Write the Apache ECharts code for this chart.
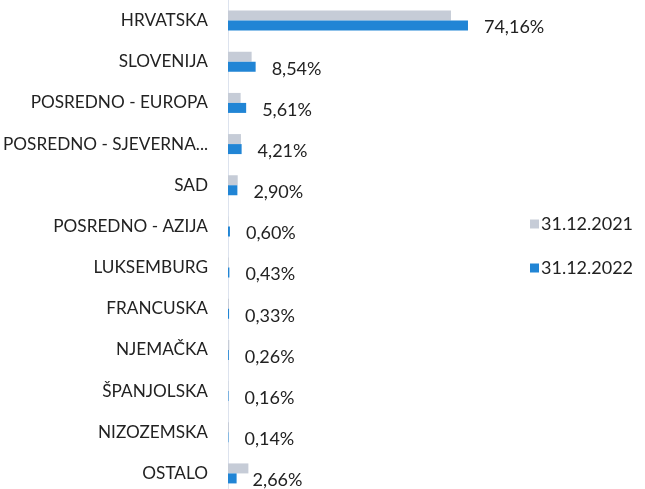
<!DOCTYPE html>
<html>
<head>
<meta charset="utf-8">
<script src="https://cdn.jsdelivr.net/npm/echarts@6/dist/echarts.min.js"></script>
<style>
html,body{margin:0;padding:0;background:#fff}
#echarts{width:645px;height:489px}
</style>
</head>
<body>
<div id="echarts"></div>
<script>
// kategorije, odozgo prema dolje
var categories = ['HRVATSKA','SLOVENIJA','POSREDNO - EUROPA','POSREDNO - SJEVERNA...','SAD','POSREDNO - AZIJA','LUKSEMBURG','FRANCUSKA','NJEMAČKA','ŠPANJOLSKA','NIZOZEMSKA','OSTALO']
var seriesNames = ['31.12.2021','31.12.2022']
var values2021 = [68.9,7.3,3.9,4.0,3.0,0.1,0.2,0.3,0.4,0.1,0.3,6.3]
var values2022 = [74.16,8.54,5.61,4.21,2.90,0.60,0.43,0.33,0.26,0.16,0.14,2.66]

var chart = echarts.init(document.getElementById('echarts'))
var font = 'Lato, "Open Sans", sans-serif'

var option = {
	animation:false,
	grid:{ left:228, top:0, height:494, width:323.6, outerBoundsMode:'none', containLabel:false },
	legend:{
		orient:'vertical',
		left:525, top:210,
		itemWidth:9, itemHeight:9, itemGap:26,
		icon:'rect',
		textStyle:{ fontFamily:font, fontSize:18, color:'#222', padding:[0,0,0,-3] },
		data:seriesNames
	},
	xAxis:{ type:'value', min:0, max:100, show:false },
	yAxis:{
		type:'category', inverse:true, data:categories,
		axisTick:{show:false},
		axisLine:{ lineStyle:{ color:'#dde3ee', width:1 } },
		axisLabel:{ fontFamily:font, fontSize:17.2, color:'#222', margin:20 }
	},
	series:[
		{
			name:seriesNames[0], type:'bar', data:values2021,
			barWidth:10, barGap:'0%',
			itemStyle:{ color:'#c6ccd7' }
		},
		{
			name:seriesNames[1], type:'bar', data:values2022,
			barWidth:10, barGap:'0%',
			itemStyle:{ color:'#2185d5' },
			label:{
				show:true, position:'right', distance:16, offset:[0,2],
				fontFamily:font, fontSize:18, color:'#222',
				formatter:function(p){ return p.value.toFixed(2).replace('.',',') + '%' }
			}
		}
	]
}
chart.setOption(option)
</script>
</body>
</html>
